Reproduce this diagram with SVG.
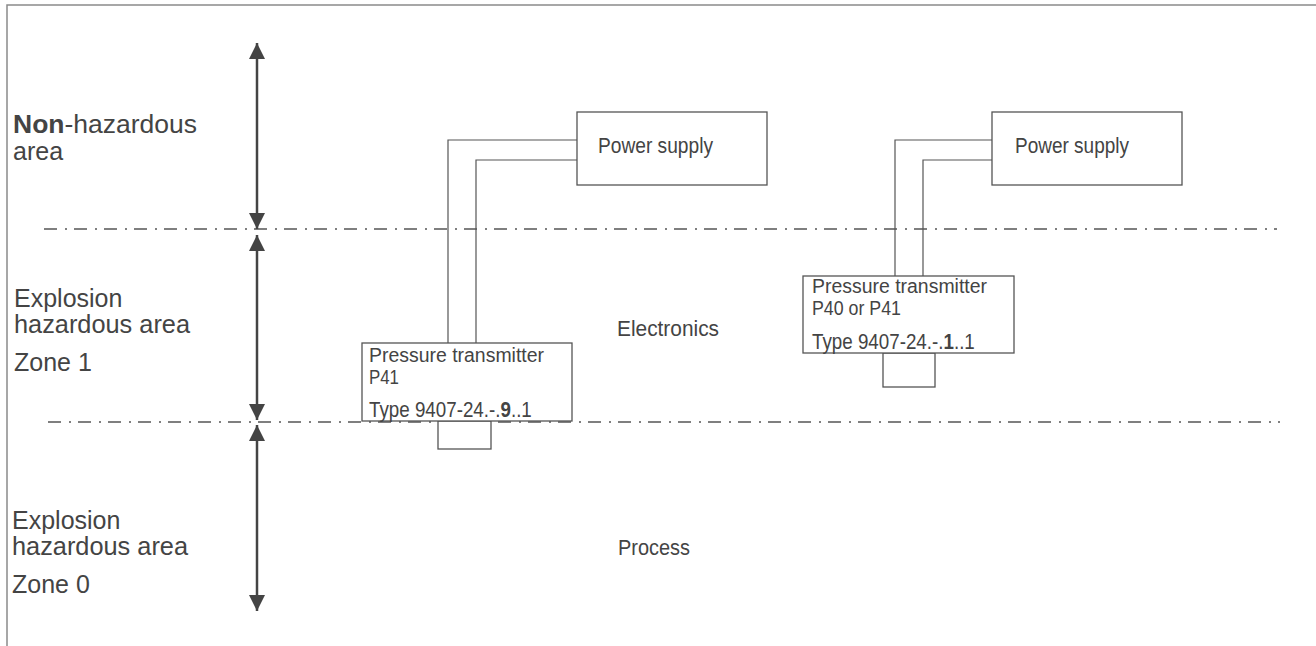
<svg xmlns="http://www.w3.org/2000/svg" width="1316" height="646" viewBox="0 0 1316 646">
<defs>
<style>
.frame{fill:none;stroke:#8a8a8a;stroke-width:1.5}
.box{fill:#fff;stroke:#555;stroke-width:1.3}
.wire{fill:none;stroke:#555;stroke-width:1.2}
.zone{fill:none;stroke:#555;stroke-width:1.6;stroke-dasharray:13 8 2 7}
.dim{fill:none;stroke:#444;stroke-width:2.5}
.lbl{font-family:"Liberation Sans",Arial,sans-serif;font-size:25px;fill:#444}
.cnd{font-family:"Liberation Sans Narrow","Liberation Sans",Arial,sans-serif;font-size:22px;fill:#444}
.sm{font-size:20px}
.b{font-weight:bold}
</style>
<marker id="ah" viewBox="0 0 16 16" refX="16" refY="8" markerWidth="16" markerHeight="16" markerUnits="userSpaceOnUse" orient="auto-start-reverse">
<path d="M0,0 L16,8 L0,16 Z" fill="#444"/>
</marker>
</defs>
<rect width="1316" height="646" fill="#fff"/>
<path class="frame" d="M7,646 V5 H1316"/>

<g id="zone-lines">
<line class="zone" x1="44" y1="229" x2="1277" y2="229"/>
<line class="zone" x1="48" y1="422" x2="1280" y2="422"/>
</g>

<g id="connectors">
<line class="dim" x1="257" y1="43" x2="257" y2="229" marker-start="url(#ah)" marker-end="url(#ah)"/>
<line class="dim" x1="257" y1="235" x2="257" y2="420" marker-start="url(#ah)" marker-end="url(#ah)"/>
<line class="dim" x1="257" y1="425" x2="257" y2="611" marker-start="url(#ah)" marker-end="url(#ah)"/>
<path class="wire" d="M448,343 V140 H577"/>
<path class="wire" d="M476,343 V160 H577"/>
<path class="wire" d="M895,276 V140 H992"/>
<path class="wire" d="M923,276 V160 H992"/>
</g>

<g id="label-nonhaz">
<text class="lbl" x="13" y="133" textLength="184" lengthAdjust="spacingAndGlyphs"><tspan font-weight="bold">Non</tspan>-hazardous</text>
<text class="lbl" x="13" y="160">area</text>
</g>
<g id="label-zone1">
<text class="lbl" x="14" y="307">Explosion</text>
<text class="lbl" x="14" y="333" textLength="176" lengthAdjust="spacingAndGlyphs">hazardous area</text>
<text class="lbl" x="14" y="371">Zone 1</text>
</g>
<g id="label-zone0">
<text class="lbl" x="12" y="529">Explosion</text>
<text class="lbl" x="12" y="555" textLength="176" lengthAdjust="spacingAndGlyphs">hazardous area</text>
<text class="lbl" x="12" y="593">Zone 0</text>
</g>

<g id="power-supply-1">
<rect class="box" x="577" y="112" width="190" height="73"/>
<text class="cnd" x="598" y="153" textLength="115" lengthAdjust="spacingAndGlyphs">Power supply</text>
</g>
<g id="power-supply-2">
<rect class="box" x="992" y="112" width="190" height="73"/>
<text class="cnd" x="1015" y="153" textLength="114" lengthAdjust="spacingAndGlyphs">Power supply</text>
</g>

<g id="transmitter-1">
<rect class="box" x="438" y="421" width="53" height="28"/>
<rect class="box" x="362" y="343" width="210" height="78"/>
<text class="cnd sm" x="369" y="362" textLength="175" lengthAdjust="spacingAndGlyphs">Pressure transmitter</text>
<text class="cnd sm" x="369" y="384" textLength="30" lengthAdjust="spacingAndGlyphs">P41</text>
<text class="cnd" transform="translate(369,417) scale(0.854,1)" x="0" y="0">Type 9407-24.-.<tspan class="b">9</tspan>..1</text>
</g>
<g id="transmitter-2">
<rect class="box" x="883" y="353" width="52" height="34"/>
<rect class="box" x="803" y="276" width="211" height="77"/>
<text class="cnd sm" x="812" y="293" textLength="175" lengthAdjust="spacingAndGlyphs">Pressure transmitter</text>
<text class="cnd sm" x="812" y="315" textLength="89" lengthAdjust="spacingAndGlyphs">P40 or P41</text>
<text class="cnd" transform="translate(812,349) scale(0.854,1)" x="0" y="0">Type 9407-24.-.<tspan class="b">1</tspan>..1</text>
</g>

<g id="label-electronics">
<text class="cnd" x="617" y="336" textLength="102" lengthAdjust="spacingAndGlyphs">Electronics</text>
</g>
<g id="label-process">
<text class="cnd" x="618" y="555" textLength="72" lengthAdjust="spacingAndGlyphs">Process</text>
</g>
</svg>
